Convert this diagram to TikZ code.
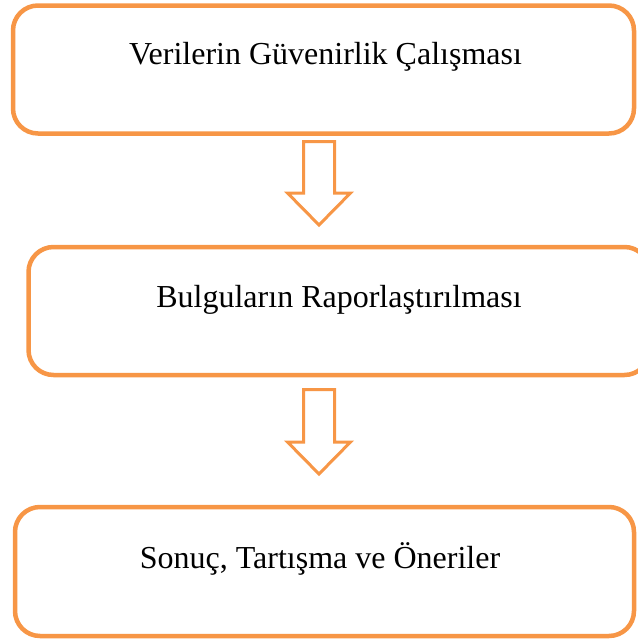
\documentclass[tikz,border=0pt]{standalone}
\usepackage{fontspec}
\setmainfont{Liberation Serif}
\definecolor{boxorange}{HTML}{F79646}
\begin{document}
\begin{tikzpicture}[x=1pt,y=-1pt,
  stagebox/.style={draw=boxorange, line width=4.5pt, rounded corners=25pt, inner sep=0pt, fill=white},
  stagetext/.style={anchor=base, inner sep=0pt, font=\fontsize{32pt}{36pt}\selectfont},
  blockarrow/.style={draw=boxorange, line width=3pt, line join=miter, fill=white}]
\useasboundingbox (0,0) rectangle (638,641);
\node[stagebox, minimum width=621pt, minimum height=128pt] (b1) at (323.5,69.5) {};
\node[stagebox, minimum width=621pt, minimum height=128pt] (b2) at (339,311) {};
\node[stagebox, minimum width=619pt, minimum height=129pt] (b3) at (324.5,571.5) {};
\node[stagetext] (t1) at (325.5,64) {Verilerin Güvenirlik Çalışması};
\node[stagetext] (t2) at (339,307) {Bulguların Raporlaştırılması};
\node[stagetext] (t3) at (320,568) {Sonuç, Tartışma ve Öneriler};
\coordinate (a1) at (319,141.5);
\coordinate (a2) at (319,389.5);
\foreach \c/\h in {a1/51.5, a2/52.5} {
  \draw[blockarrow] (\c) ++(-15.5,0) -- ++(31,0) -- ++(0,\h) -- ++(16,0)
    -- ++(-31.5,32) -- ++(-31.5,-32) -- ++(16,0) -- cycle;
}
\end{tikzpicture}
\end{document}
